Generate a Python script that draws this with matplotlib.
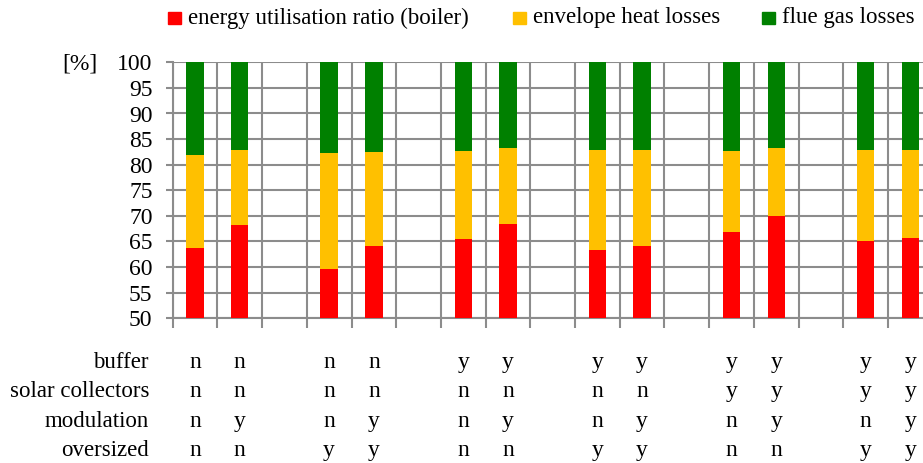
import matplotlib
matplotlib.use("Agg")
import matplotlib.pyplot as plt
from matplotlib.patches import Rectangle
from matplotlib.transforms import blended_transform_factory
import numpy as np

plt.rcParams['font.family'] = ['Liberation Serif', 'DejaVu Serif']

# 17 slots on the x axis, empty slot between each pair of bars
slots = [0, 1, 3, 4, 6, 7, 9, 10, 12, 13, 15, 16]
# top of each stack segment [%]
ratio = [63.7, 68.2, 59.6, 64.1, 65.4, 68.5, 63.4, 64.1, 66.9, 69.9, 65.1, 65.7]
envelope_top = [81.9, 82.9, 82.2, 82.5, 82.7, 83.3, 82.9, 82.9, 82.7, 83.3, 82.9, 82.9]
flue_top = [100] * 12

row_names = ['buffer', 'solar collectors', 'modulation', 'oversized']
buffer = ['n', 'n', 'n', 'n', 'y', 'y', 'y', 'y', 'y', 'y', 'y', 'y']
solar = ['n', 'n', 'n', 'n', 'n', 'n', 'n', 'n', 'y', 'y', 'y', 'y']
modulation = ['n', 'y', 'n', 'y', 'n', 'y', 'n', 'y', 'n', 'y', 'n', 'y']
oversized = ['n', 'n', 'y', 'y', 'n', 'n', 'y', 'y', 'n', 'n', 'y', 'y']

labels = ['energy utilisation ratio (boiler)', 'envelope heat losses', 'flue gas losses']
colors = ['#FF0000', '#FFC000', '#008000']

W, H = 923, 463
fig = plt.figure(figsize=(W / 100, H / 100), dpi=100)
ax = fig.add_axes([172.7 / W, 1 - 318.3 / H, 760 / W, 256 / H])

base = 50
ratio = np.array(ratio)
env = np.array(envelope_top) - ratio
flue = np.array(flue_top) - np.array(envelope_top)
ax.bar(slots, ratio - base, bottom=base, width=0.39, color=colors[0], zorder=3)
ax.bar(slots, env, bottom=ratio, width=0.39, color=colors[1], zorder=3)
ax.bar(slots, flue, bottom=envelope_top, width=0.39, color=colors[2], zorder=3)

gc = '#8c8c8c'
ax.set_xlim(-0.5, 16.5)
ax.set_ylim(50, 100)
ax.set_yticks(np.arange(50, 101, 5))
ax.set_xticks(np.arange(-0.5, 17, 1))
ax.set_xticklabels([])
ax.grid(True, color=gc, linewidth=1.5, zorder=0)
ax.set_axisbelow(True)
for s in ['top', 'right']:
    ax.spines[s].set_visible(False)
for s in ['left', 'bottom']:
    ax.spines[s].set_color(gc)
    ax.spines[s].set_linewidth(1.5)
ax.tick_params(axis='both', colors=gc, width=1.5, length=5)
ax.tick_params(axis='x', length=7)
ax.tick_params(axis='y', labelcolor='black', labelsize=17, pad=9.5)

fig.text(97 / W, 1 - 64 / H, '[%]', ha='right', va='center', fontsize=17)

# table of options below the bars
rows = [buffer, solar, modulation, oversized]
baselines = [368.3, 397.3, 426.7, 455.7]
tr = blended_transform_factory(ax.transData, fig.transFigure)
for name, vals, yb in zip(row_names, rows, baselines):
    fig.text(149 / W, 1 - yb / H, name, ha='right', va='baseline', fontsize=16.5)
    for x, v in zip(slots, vals):
        ax.text(x, 1 - yb / H, v, ha='center', va='baseline', fontsize=17, transform=tr)

# legend at the top
legend_x = [168, 513, 762]
for lx, lab, c in zip(legend_x, labels, colors):
    fig.add_artist(Rectangle((lx / W, 1 - 24 / H), 13 / W, 12 / H,
                             transform=fig.transFigure, color=c))
    fig.text((lx + 20) / W, 1 - 18 / H, lab, ha='left', va='center', fontsize=16.5)

fig.savefig('out.png', dpi=100)
